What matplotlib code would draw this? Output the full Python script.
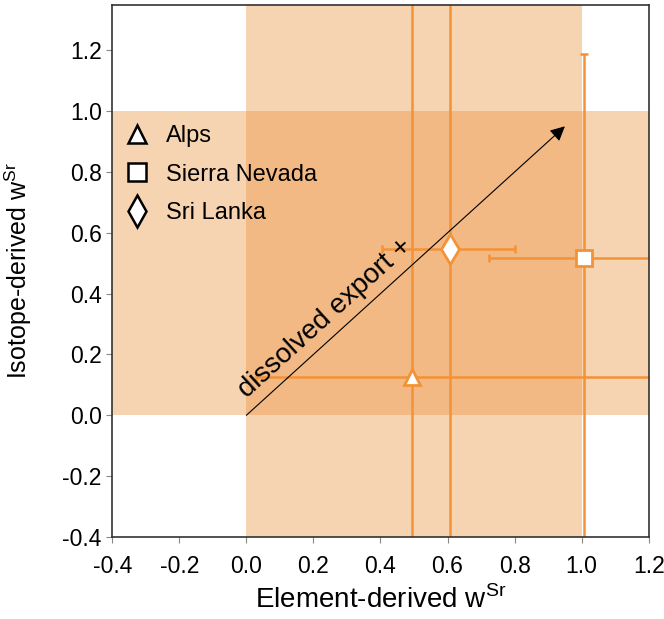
import numpy as np
import matplotlib
matplotlib.use('Agg')
import matplotlib.pyplot as plt

plt.rcParams['font.family'] = ['Liberation Sans', 'DejaVu Sans']
plt.rcParams['axes.unicode_minus'] = False
plt.rcParams['mathtext.fontset'] = 'custom'
plt.rcParams['mathtext.rm'] = 'Liberation Sans'

# Data (9.9 / -9.9 = error bar runs off the plot)
sites = ['Alps', 'Sierra Nevada', 'Sri Lanka']
markers = ['^', 's', 'd']
x_elem = [0.494, 1.007, 0.606]
y_iso = [0.127, 0.516, 0.546]
x_lo = [0.03, 0.724, 0.404]
x_hi = [9.9, 9.9, 0.80]
y_lo = [-9.9, -9.9, -9.9]
y_hi = [9.9, 1.187, 9.9]

xticks = [-0.4, -0.2, 0.0, 0.2, 0.4, 0.6, 0.8, 1.0, 1.2]
yticks = [-0.4, -0.2, 0.0, 0.2, 0.4, 0.6, 0.8, 1.0, 1.2]

LIGHT = '#F7D4B1'
DARK = '#F2B985'
ORANGE = '#F39237'

fig = plt.figure(figsize=(6.64, 6.19), dpi=100)
ax = fig.add_axes([0.169, 0.1325, 0.808, 0.86])

ax.set_xlim(-0.4, 1.2)
ax.set_ylim(-0.4, 1.35)

# shaded bands: 0..1 on both axes, overlap darker
ax.axvspan(0, 1, color=LIGHT, lw=0, zorder=0)
ax.axhspan(0, 1, color=LIGHT, lw=0, zorder=0)
ax.fill_between([0, 1], 0, 1, color=DARK, lw=0, zorder=0.5)

for i in range(len(sites)):
    xerr = [[x_elem[i] - x_lo[i]], [x_hi[i] - x_elem[i]]]
    yerr = [[y_iso[i] - y_lo[i]], [y_hi[i] - y_iso[i]]]
    ax.errorbar([x_elem[i]], [y_iso[i]], xerr=xerr, yerr=yerr, fmt='none',
                ecolor=ORANGE, elinewidth=1.8, capsize=3, capthick=1.8, zorder=2)
    ax.plot(x_elem[i], y_iso[i], marker=markers[i], ms=15 if markers[i] == 'd' else 12,
            mfc='white', mec=ORANGE, mew=2, ls='none', zorder=4)

# arrow
ax.annotate('', xy=(0.95, 0.95), xytext=(0.0, 0.0),
            arrowprops=dict(arrowstyle='-|>', color='black', lw=0.8,
                            mutation_scale=22, shrinkA=0, shrinkB=0), zorder=3)
ax.text(0.015, 0.04, 'dissolved export +', rotation=45, transform_rotates_text=True,
        rotation_mode='anchor', ha='left', va='bottom', fontsize=20, zorder=3)

# legend
handles = []
for i in range(len(sites)):
    h, = ax.plot([], [], marker=markers[i], ms=16 if markers[i] == 'd' else 13,
                 mfc='white', mec='black', mew=1.8, ls='none', label=sites[i])
    handles.append(h)
ax.legend(handles=handles, loc='upper left', bbox_to_anchor=(-0.015, 0.805),
          frameon=False, fontsize=17, handlelength=1.4, handletextpad=0.5,
          labelspacing=0.7, borderaxespad=0.3)

ax.set_xticks(xticks)
ax.set_yticks(yticks)
ax.set_xticklabels([f'{v:.1f}' for v in xticks])
ax.set_yticklabels([f'{v:.1f}' for v in yticks])
ax.tick_params(labelsize=16.5, length=4, color='#888888', width=0.8)
ax.tick_params(axis='x', pad=9)
for s in ax.spines.values():
    s.set_color('#333333')
    s.set_linewidth(1.2)
    s.set_zorder(5)

ax.set_xlabel(r'Element-derived w$^{\mathrm{Sr}}$', fontsize=20)
ax.set_ylabel(r'Isotope-derived w$^{\mathrm{Sr}}$', fontsize=18)
ax.xaxis.set_label_coords(0.5, -0.092)
ax.yaxis.set_label_coords(-0.145, 0.5)

fig.savefig('out.png', dpi=100)
